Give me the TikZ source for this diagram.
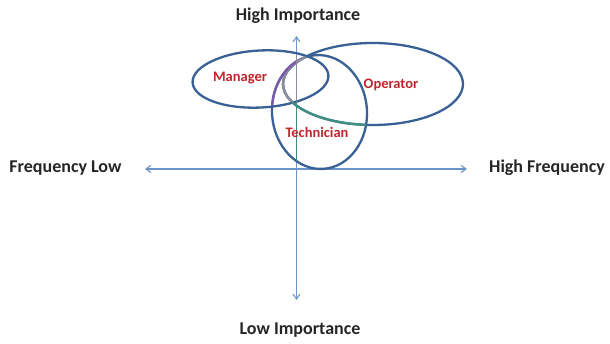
\documentclass[tikz,border=0pt]{standalone}
\usepackage{fontspec}
\setmainfont{Carlito}
\usetikzlibrary{arrows.meta}
\definecolor{axisblue}{HTML}{6E93C9}
\definecolor{ringblue}{HTML}{3A6195}
\definecolor{labred}{HTML}{C0272D}
\definecolor{arcpurple}{HTML}{7A5AA8}
\definecolor{arcgray}{HTML}{8E8C9E}
\definecolor{arcgreen}{HTML}{3F8F80}
\tikzset{
  axis/.style={draw=axisblue, line width=1.1pt, {Straight Barb[length=5pt,width=7pt]}-{Straight Barb[length=5pt,width=7pt]}},
  ring/.style={draw=ringblue, line width=2.3pt},
  axislabel/.style={font=\bfseries\fontsize{18}{21}\selectfont, text=black!85, inner sep=0pt},
  rolelabel/.style={font=\bfseries\fontsize{14.5}{16}\selectfont, text=labred, inner sep=0pt},
}
\begin{document}
\begin{tikzpicture}[x=1pt, y=-1pt]
\useasboundingbox[fill=white] (0,0) rectangle (610,344);
% axes
\coordinate (top) at (296.5,36);
\coordinate (bot) at (296.5,300);
\coordinate (lft) at (145,169);
\coordinate (rgt) at (467,169);
\draw[axis] (lft) -- (rgt);
\draw[axis] (bot) -- (top);
% ellipses centres
\coordinate (mc) at (260.5,79);
\coordinate (oc) at (373,84);
\coordinate (tc) at (319.5,112);
\draw[ring, rotate around={3:(mc)}] (mc) ellipse [x radius=68pt, y radius=28.5pt];
\draw[ring] (oc) ellipse [x radius=90pt, y radius=41pt];
\draw[ring, rotate around={4:(tc)}] (tc) ellipse [x radius=47.5pt, y radius=57pt];
% coloured overlaps
\begin{scope}
  \clip[rotate around={4:(tc)}] (tc) ellipse [x radius=47.5pt, y radius=57pt];
  \draw[arcgreen, line width=2.3pt] (oc) ellipse [x radius=90pt, y radius=41pt];
  \draw[arcgreen, line width=1.1pt] (296.5,36) -- (296.5,169);
\end{scope}
\begin{scope}
  \clip[rotate around={3:(mc)}] (mc) ellipse [x radius=67pt, y radius=27.5pt];
  \draw[arcgray, line width=2.3pt] (oc) ellipse [x radius=90pt, y radius=41pt];
  \draw[arcgray, line width=1.3pt] (296.5,36) -- (296.5,169);
  \clip (0,0) rectangle (296,344);
  \draw[arcpurple, line width=2.3pt, rotate around={4:(tc)}] (tc) ellipse [x radius=47.5pt, y radius=57pt];
\end{scope}
% labels
\node[axislabel] (hi) at (298,16) {High Importance};
\node[axislabel] (lo) at (300,330) {Low Importance};
\node[axislabel] (fl) at (65.5,168) {Frequency Low};
\node[axislabel] (hf) at (547,168) {High Frequency};
\node[rolelabel] (man) at (240,78) {Manager};
\node[rolelabel] (ope) at (391,85) {Operator};
\node[rolelabel] (tec) at (317,132) {Technician};
\end{tikzpicture}
\end{document}
